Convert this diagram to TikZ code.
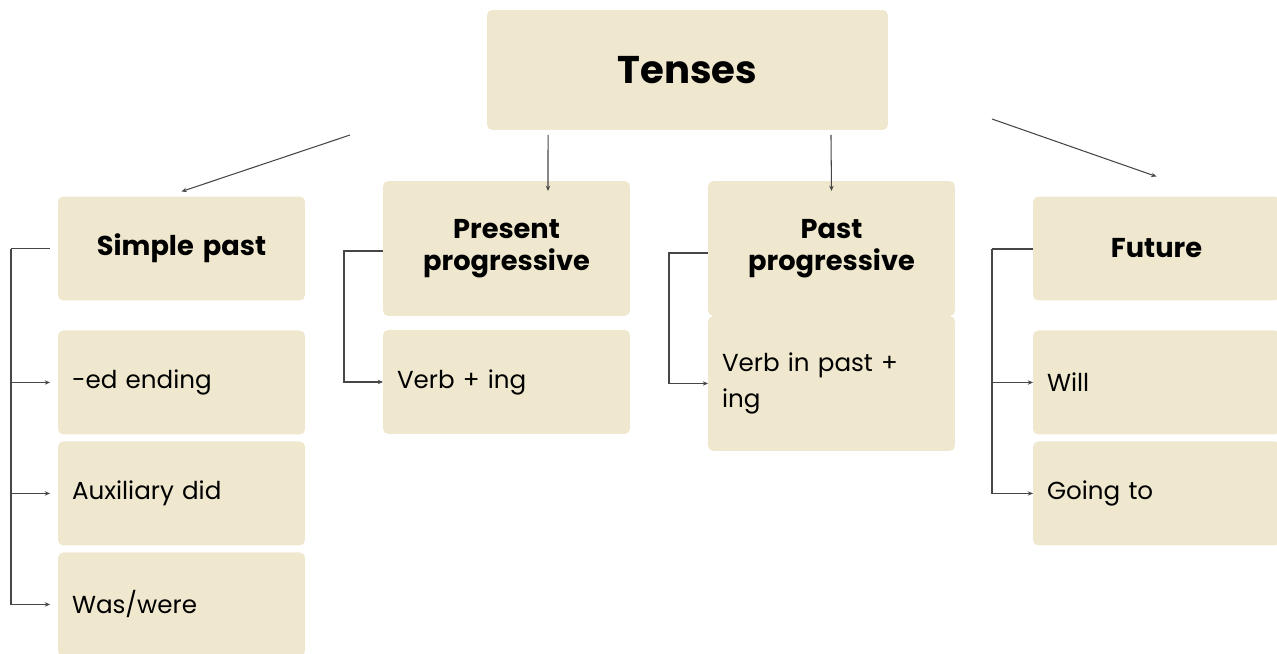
\documentclass[tikz,border=0pt]{standalone}
\usepackage{fontspec}
\setmainfont{Poppins}
\usepackage{xcolor}
\usepackage{tikz}
\usetikzlibrary{arrows.meta,positioning,calc}

\definecolor{boxfill}{RGB}{239,232,206}
\definecolor{linegray}{RGB}{70,70,70}

\tikzset{
	head/.style={fill=boxfill, rounded corners=3pt, minimum width=4.94cm, minimum height=2.08cm, text width=4.38cm, align=center, inner sep=0pt, outer sep=0pt, font=\fontsize{15.5}{18}\selectfont\bfseries},
	item/.style={fill=boxfill, rounded corners=3pt, minimum width=4.94cm, minimum height=2.08cm, text width=4.38cm, align=left, inner xsep=0.28cm, inner ysep=0pt, outer sep=0pt, font=\fontsize{14}{20}\selectfont},
	link/.style={draw=linegray, line width=0.6pt},
	arr/.style={link, -{Stealth[length=3pt,width=2.5pt]}}
}

\begin{document}
\begin{tikzpicture} [x=0.02cm, y=-0.02cm]
	 	
	 	\useasboundingbox (0,0) rectangle (1277,653);
	 	
	 	\node (tenses) [head, minimum width=8.02cm, minimum height=2.4cm, font=\fontsize{22}{26}\selectfont\bfseries] at (687.5,70) {Tenses};
	 	
	 	
	 	\begin{scope}
	 	
	 	\node (simple) [head] at (181.5,248.5) {Simple past};
	 	
	 	\node (ed) [item, below=0.6cm of simple] {-ed ending};
	 	
	 	\node (did) [item, below=0.14cm of ed] {Auxiliary did};
	 	
	 	\node (was) [item, below=0.14cm of did] {Was/were};
	 	
	 	\coordinate (sp_rail) at (11,248.5);
	 	
	 	\draw [link] ([xshift=-0.16cm]simple.west) -- (sp_rail);
	 	
	 	\foreach \n in {ed,did,was}
	 	\draw [arr] (sp_rail) |- ([xshift=-0.16cm]\n.west);
	 	
	 	\end{scope}
	 	
	 	
	 	\begin{scope}
	 	
	 	\node (present) [head, minimum height=2.7cm] at (506.5,248.5) {Present\\progressive};
	 	
	 	\node (verbing) [item, below=0.28cm of present] {Verb + ing};
	 	
	 	\coordinate (pr_rail) at (344,251);
	 	
	 	\draw [arr] (present.west |- pr_rail) -- (pr_rail) |- (verbing.west);
	 	
	 	\end{scope}
	 	
	 	
	 	\begin{scope}
	 	
	 	\node (past) [head, minimum height=2.7cm] at (831.5,248.5) {Past\\progressive};
	 	
	 	\node (verbpast) [item, minimum height=2.7cm, below=0cm of past] {Verb in past +\\ing};
	 	
	 	\coordinate (pa_rail) at (669,253);
	 	
	 	\draw [arr] (past.west |- pa_rail) -- (pa_rail) |- (verbpast.west);
	 	
	 	\end{scope}
	 	
	 	
	 	\begin{scope}
	 	
	 	\node (future) [head] at (1156.5,248.5) {Future};
	 	
	 	\node (will) [item, below=0.6cm of future] {Will};
	 	
	 	\node (going) [item, below=0.14cm of will] {Going to};
	 	
	 	\coordinate (fu_rail) at (992,249);
	 	
	 	\draw [link] (future.west |- fu_rail) -- (fu_rail);
	 	
	 	\foreach \n in {will,going}
	 	\draw [arr] (fu_rail) |- (\n.west);
	 	
	 	\end{scope}
	 	
	 	
	 	\coordinate (sp_start) at (350,135);
	 	
	 	\coordinate (fu_start) at (992,119);
	 	
	 	\draw [arr] (sp_start) -- ([yshift=0.1cm]simple.north);
	 	
	 	\draw [arr] ([xshift=-2.79cm,yshift=-0.1cm]tenses.south) -- ([xshift=0.83cm,yshift=-0.2cm]present.north);
	 	
	 	\draw [arr] ([xshift=2.87cm,yshift=-0.1cm]tenses.south) -- ([yshift=-0.2cm]past.north);
	 	
	 	\draw [arr] (fu_start) -- ([yshift=0.4cm]future.north);
	 	
	 	\end{tikzpicture}
\end{document}
